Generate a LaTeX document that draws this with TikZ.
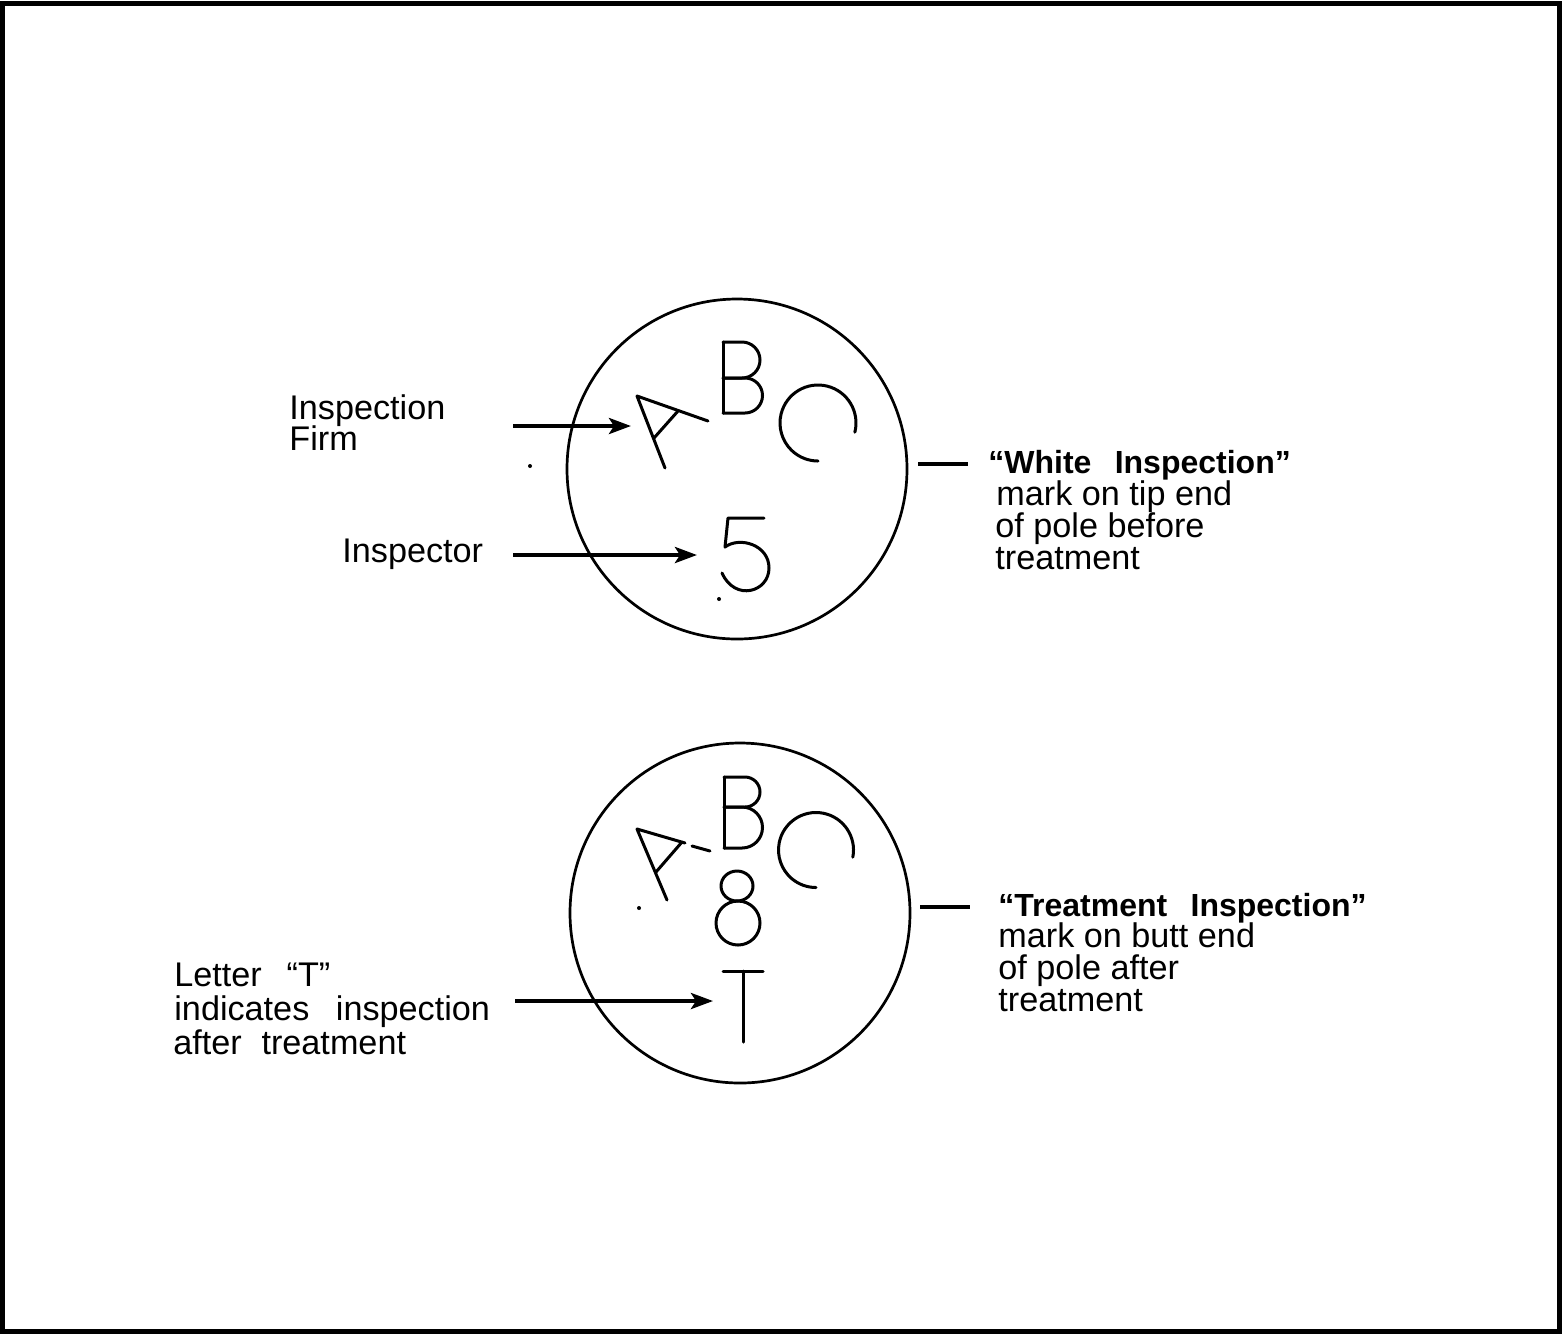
\documentclass[tikz,border=0pt]{standalone}
\usepackage{fontspec}
\setmainfont{Liberation Sans}
\usetikzlibrary{arrows.meta}
\begin{document}
\begin{tikzpicture}[x=0.5pt,y=-0.5pt,
  lbl/.style={font=\fontsize{17.1}{16}\selectfont, anchor=base west, inner sep=0pt, text height=0.72em, text depth=0.12em},
  bld/.style={font=\fontsize{16}{16}\selectfont\bfseries, anchor=base west, inner sep=0pt, text height=0.72em, text depth=0.12em},
  ring/.style={draw, line width=1.35pt, circle, minimum size=170pt, inner sep=0pt},
  glyph/.style={line width=1.5pt, line cap=round, line join=round},
  pointer/.style={line width=2pt, -{Stealth[length=11pt,width=8pt,inset=2.5pt]}},
  tick/.style={line width=2pt},
  speck/.style={fill=black},
]
\useasboundingbox (0,0) rectangle (1562,1335);
\draw[line width=2.6pt] (2.5,3.5) rectangle (1559.5,1331.5);

% ---------- upper mark ----------
\node[ring] (c1) at (737,469) {};
% A
\draw[glyph] (665,468) -- (637,396) -- (708,421);
\draw[glyph] (678,411) -- (654,438);
% B
\draw[glyph] (723,413) -- (723,342);
\draw[glyph] (723,342) -- (742,342) arc[start angle=-90,end angle=90,radius=18] -- (723,378);
\draw[glyph] (723,378) -- (745,378) arc[start angle=-90,end angle=90,radius=17.5] -- (723,413);
% C
\draw[glyph] (818,423) ++(14:38) arc[start angle=14,end angle=-270,radius=38];
% 5
\draw[glyph] (764,518) -- (728,518) -- (725,547)
  .. controls (740,536) and (769,545) .. (769,568)
  .. controls (769,592) and (735,602) .. (722,573);
% specks
\fill[speck] (530,466) circle[radius=2];
\fill[speck] (719,599) circle[radius=2];

% labels upper
\node[lbl] (firm1) at (289,419) {Inspection};
\node[lbl] (firm2) at (289,450) {Firm};
\node[lbl] (insp) at (342,562) {Inspector};
\coordinate (a1s) at (513,426);
\coordinate (a1e) at (631,426);
\coordinate (a2s) at (513,555);
\coordinate (a2e) at (697,555);
\draw[pointer] (a1s) -- (a1e);
\draw[pointer] (a2s) -- (a2e);

\coordinate (d1s) at (918,464);
\coordinate (d1e) at (968,464);
\draw[tick] (d1s) -- (d1e);
\node[bld] (w1) at (988,473) {“White\hspace{0.45em} Inspection”};
\node[lbl] (w2) at (996,505) {mark on tip end};
\node[lbl] (w3) at (995,537) {of pole before};
\node[lbl] (w4) at (995,569.5) {treatment};

% ---------- lower mark ----------
\node[ring] (c2) at (740,913) {};
% A
\draw[glyph] (667,900) -- (637,829) -- (685,843);
\draw[glyph] (692,846) -- (710,851);
\draw[glyph] (682,842) -- (656,872);
% B
\draw[glyph] (724,848) -- (724,777);
\draw[glyph] (724,777) -- (745,777) arc[start angle=-90,end angle=90,radius=15] -- (724,807);
\draw[glyph] (724,807) -- (742,807) arc[start angle=-90,end angle=90,radius=20.5] -- (724,848);
% C
\draw[glyph] (816,850) ++(11:37.5) arc[start angle=11,end angle=-270,radius=37.5];
% 8
\draw[glyph] (737,886) ellipse[x radius=16, y radius=15];
\draw[glyph] (738,923) ellipse[x radius=22, y radius=22];
% T
\draw[glyph] (723,971) -- (763,971);
\draw[glyph] (743,971) -- (743,1042);
% speck
\fill[speck] (639,908) circle[radius=2];

% labels lower
\node[lbl] (t1) at (174,986) {Letter\hspace{0.45em} “T”};
\node[lbl] (t2) at (174,1020) {indicates\hspace{0.5em} inspection};
\node[lbl] (t3) at (173,1054) {after\hspace{0.3em} treatment};
\coordinate (a3s) at (515,1001);
\coordinate (a3e) at (713,1001);
\draw[pointer] (a3s) -- (a3e);

\coordinate (d2s) at (920,907);
\coordinate (d2e) at (970,907);
\draw[tick] (d2s) -- (d2e);
\node[bld] (r1) at (998,916) {“Treatment\hspace{0.45em} Inspection”};
\node[lbl] (r2) at (998,947) {mark on butt end};
\node[lbl] (r3) at (998,979) {of pole after};
\node[lbl] (r4) at (998,1011) {treatment};
\end{tikzpicture}
\end{document}
